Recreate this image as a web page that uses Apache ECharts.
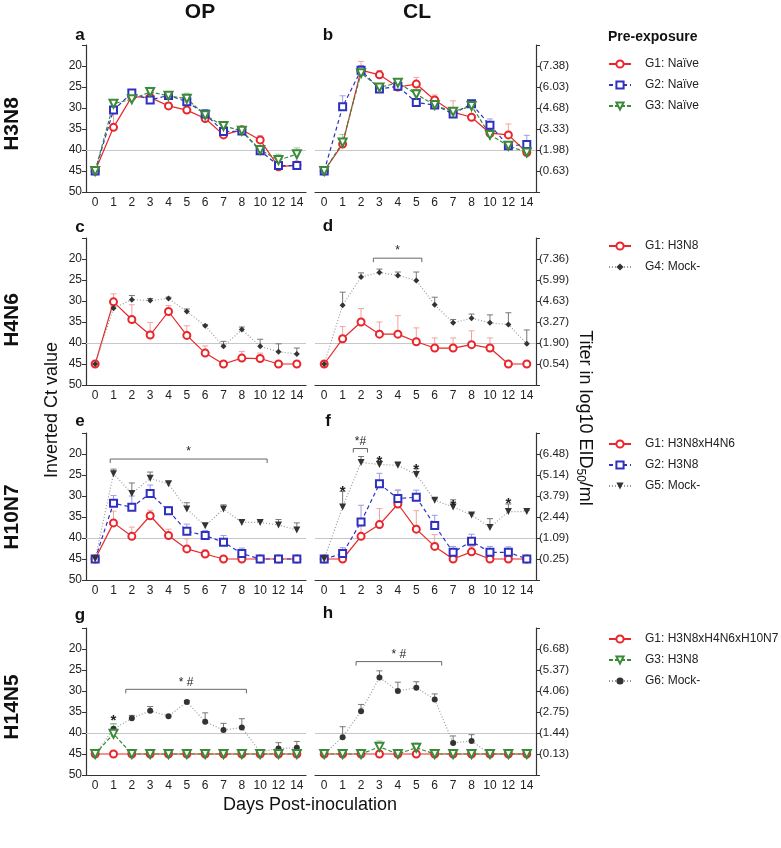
<!DOCTYPE html>
<html>
<head>
<meta charset="utf-8">
<script src="https://cdn.jsdelivr.net/npm/echarts@6/dist/echarts.min.js"></script>
<style>
  html, body { margin: 0; padding: 0; background: #fff; }
  #chart { width: 781px; height: 848px; }
</style>
</head>
<body>
<div id="chart"></div>
<script>
// days post-inoculation (category axis, evenly spaced)
const days = ['0', '1', '2', '3', '4', '5', '6', '7', '8', '10', '12', '14'];

// right-axis titer labels (log10 EID50/ml), placed at Ct 20..45
const titerB = ['(7.38)', '(6.03)', '(4.68)', '(3.33)', '(1.98)', '(0.63)'];
const titerD = ['(7.36)', '(5.99)', '(4.63)', '(3.27)', '(1.90)', '(0.54)'];
const titerF = ['(6.48)', '(5.14)', '(3.79)', '(2.44)', '(1.09)', '(0.25)'];
const titerH = ['(6.68)', '(5.37)', '(4.06)', '(2.75)', '(1.44)', '(0.13)'];

// a: H3N8 OP
const aG1 = [45, 34.6, 27.3, 27.5, 29.5, 30.5, 32.5, 36.4, 35.2, 37.6, 44.0, 43.6];
const aG1Err = [0, 3.3, 0.5, 1.0, 0.8, 0.5, 0.6, 0.5, 0.4, 1.0, 0.5, 0.9];
const aG2 = [45, 30.5, 26.4, 28.1, 27.0, 28.5, 31.4, 35.6, 35.5, 40.2, 43.7, 43.7];
const aG2Err = [0, 1.0, 0.5, 0.5, 0.9, 0.6, 1.0, 0.6, 0.3, 1.1, 0.5, 0.5];
const aG3 = [45, 29.0, 27.9, 26.2, 27.1, 27.8, 31.7, 34.3, 35.4, 40.0, 42.4, 41.0];
const aG3Err = [0, 0.5, 0.5, 0.7, 0.5, 1.3, 0.5, 0.5, 0.3, 0.5, 1.4, 1.5];

// b: H3N8 CL
const bG1 = [45, 38.6, 21.0, 22.1, 25.0, 24.3, 28.1, 31.0, 32.2, 36.0, 36.4, 40.6];
const bG1Err = [0, 0.8, 2.1, 1.0, 0.5, 1.6, 1.2, 2.7, 2.7, 0.8, 2.6, 0.5];
const bG2 = [45, 29.7, 21.0, 25.5, 24.8, 28.7, 29.3, 31.4, 29.0, 34.1, 39.0, 38.7];
const bG2Err = [0, 2.6, 1.1, 1.2, 0.6, 0.5, 0.5, 0.5, 0.5, 1.5, 0.5, 2.2];
const bG3 = [45, 38.2, 21.7, 25.1, 24.0, 26.7, 29.3, 30.9, 29.5, 36.4, 39.0, 40.6];
const bG3Err = [0, 1.9, 0.8, 0.6, 1.0, 1.1, 0.5, 0.5, 0.5, 0.5, 0.5, 0.5];

// c: H4N6 OP
const cG1 = [45, 30.2, 34.4, 38.1, 32.5, 38.2, 42.4, 45, 43.6, 43.7, 45, 45];
const cG1Err = [0, 1.9, 3.5, 3.0, 1.4, 2.3, 1.7, 0, 1.6, 1.3, 0, 0];
const cG4 = [45, 31.7, 29.7, 29.9, 29.4, 32.5, 35.9, 40.8, 36.8, 40.8, 42.1, 42.6];
const cG4Err = [0, 0.3, 1.0, 0.5, 0.3, 0.6, 0.3, 1.2, 0.6, 1.7, 1.9, 1.4];

// d: H4N6 CL
const dG1 = [45, 39.0, 35.0, 37.9, 37.9, 39.7, 41.2, 41.2, 40.4, 41.2, 45, 45];
const dG1Err = [0, 2.9, 3.2, 2.9, 4.4, 3.3, 2.4, 2.4, 3.3, 2.4, 0, 0];
const dG4 = [45, 31.0, 24.3, 23.2, 23.9, 25.1, 30.9, 35.2, 34.1, 35.2, 35.6, 40.2];
const dG4Err = [0, 3.1, 1.0, 0.8, 0.8, 2.0, 1.8, 0.8, 1.0, 1.9, 2.8, 3.3];

// e: H10N7 OP
const eG1 = [45, 36.4, 39.6, 34.7, 39.4, 42.6, 43.8, 45, 45, 45, 45, 45];
const eG1Err = [0, 2.8, 2.2, 1.3, 1.5, 2.4, 1.0, 0, 0, 0, 0, 0];
const eG2 = [45, 31.7, 32.7, 29.4, 33.5, 38.4, 39.4, 41.0, 43.7, 45, 45, 45];
const eG2Err = [0, 1.8, 2.7, 2.0, 1.0, 1.7, 1.2, 1.6, 1.3, 0, 0, 0];
const eG5 = [45, 24.7, 29.4, 25.8, 27.1, 33.1, 37.1, 33.1, 36.3, 36.3, 36.9, 38.1];
const eG5Err = [0, 1.1, 2.5, 1.5, 0.6, 1.5, 0.6, 1.0, 0.5, 0.3, 1.3, 1.7];

// f: H10N7 CL
const fG1 = [45, 45, 39.6, 36.8, 31.9, 37.9, 42.0, 45, 43.3, 45, 45, 45];
const fG1Err = [0, 0, 3.0, 3.8, 3.3, 4.4, 2.8, 0, 1.3, 0, 0, 0];
const fG2 = [45, 43.7, 36.2, 27.1, 30.6, 30.3, 37.0, 43.4, 40.8, 43.4, 43.4, 45];
const fG2Err = [0, 1.4, 4.0, 2.5, 2.0, 1.7, 2.4, 1.4, 1.7, 1.4, 1.3, 0];
const fG5 = [45, 32.6, 22.0, 22.5, 22.7, 24.9, 31.0, 32.6, 34.5, 37.5, 33.7, 33.7];
const fG5Err = [0, 3.7, 1.4, 0.8, 0.8, 1.4, 0.3, 1.7, 0.3, 2.1, 1.8, 0.3];

// g: H14N5 OP
const gG1 = [45, 45, 45, 45, 45, 45, 45, 45, 45, 45, 45, 45];
const gG1Err = [0, 0, 0, 0, 0, 0, 0, 0, 0, 0, 0, 0];
const gG3 = [45, 40.2, 45, 45, 45, 45, 45, 45, 45, 45, 45, 45];
const gG3Err = [0, 2.4, 0, 0, 0, 0, 0, 0, 0, 0, 0, 0];
const gG6 = [45, 39.0, 36.5, 34.7, 36.0, 32.6, 37.3, 39.3, 38.7, 44.5, 43.7, 43.5];
const gG6Err = [0, 1.2, 0.7, 1.0, 0.3, 0.3, 2.1, 1.6, 2.1, 0, 1.4, 1.5];

// h: H14N5 CL
const hG1 = [45, 45, 45, 45, 45, 45, 45, 45, 45, 45, 45, 45];
const hG1Err = [0, 0, 0, 0, 0, 0, 0, 0, 0, 0, 0, 0];
const hG3 = [45, 45, 45, 43.3, 45, 43.5, 45, 45, 45, 45, 45, 45];
const hG3Err = [0, 0, 0, 1.4, 0, 1.1, 0, 0, 0, 0, 0, 0];
const hG6 = [45, 41.0, 34.8, 26.8, 30.0, 29.2, 32.0, 42.4, 41.9, 45, 45, 45];
const hG6Err = [0, 2.5, 1.6, 1.6, 2.1, 1.4, 1.3, 1.7, 1.5, 0, 0, 0];

// significance brackets: [from index, to index, Ct level, label]
const bracketsD = [[2.67, 5.3, 19.8, '*']];
const bracketsE = [[0.82, 9.38, 21.2, '*']];
const bracketsF = [[1.58, 2.35, 18.7, '*#']];
const bracketsG = [[1.67, 8.25, 29.6, '* #']];
const bracketsH = [[1.73, 6.38, 23.0, '* #']];
// single stars: [index, Ct level]
const starsF = [[1, 28.1], [3, 20.9], [5, 22.8], [7, 31.5], [10, 30.9]];
const starsG = [[1, 36.2]];

const FONT = '"Liberation Sans", Arial, sans-serif';

const STY = {
  G1: { color: '#e8262b', line: '#e8262b', err: '#f2a2a2', symbol: 'emptyCircle', size: 7, type: 'solid' },
  G2: { color: '#3030c0', line: '#3030c0', err: '#9c9ce4', symbol: 'emptyRect', size: 7, type: [4, 3] },
  G3: { color: '#3a8a3a', line: '#3a8a3a', err: '#98c898', symbol: 'emptyTriangle', rotate: 180, size: 8, type: [4, 2] },
  G4: { color: '#333', line: '#9a9a9a', err: '#777', symbol: 'diamond', size: 6, type: [1, 2] },
  G5: { color: '#333', line: '#9a9a9a', err: '#777', symbol: 'triangle', rotate: 180, size: 7, type: [1, 2] },
  G6: { color: '#333', line: '#9a9a9a', err: '#777', symbol: 'circle', size: 6, type: [1, 2] }
};

const ROWS = [45, 238, 433, 628];
const COLS = [{ left: 86, width: 220 }, { left: 315, width: 221 }];
const titers = [titerB, titerD, titerF, titerH];

const grids = [], xAxes = [], yAxes = [];
for (let r = 0; r < 4; r++) {
  for (let c = 0; c < 2; c++) {
    const gi = grids.length;
    grids.push({ left: COLS[c].left, width: COLS[c].width, top: ROWS[r], height: 147 });
    xAxes.push({
      type: 'category', gridIndex: gi, data: days, boundaryGap: true,
      axisLine: { lineStyle: { color: '#333', width: 1.2 } },
      axisTick: { alignWithLabel: true, length: 4, lineStyle: { color: '#333' } },
      axisLabel: { fontSize: 12, color: '#222', fontFamily: FONT, margin: 5, interval: 0 }
    });
    const tl = titers[r];
    yAxes.push({
      type: 'value', gridIndex: gi, inverse: true, min: 15, max: 50, interval: 5,
      position: c === 0 ? 'left' : 'right',
      splitLine: { show: false },
      axisLine: { show: true, lineStyle: { color: '#333', width: 1.2 } },
      axisTick: { show: true, length: 4, lineStyle: { color: '#333' } },
      axisLabel: {
        fontSize: c === 0 ? 12 : 11.5, color: '#222', fontFamily: FONT, margin: c === 0 ? 4 : 3,
        formatter: c === 0
          ? (v => (v === 15 ? '' : String(v)))
          : (v => tl[(v - 20) / 5] || '')
      }
    });
  }
}

const series = [];

function lines(gi, list) {
  list.forEach((it, k) => {
    const s = STY[it.key];
    const ser = {
      type: 'line', name: it.name, xAxisIndex: gi, yAxisIndex: gi, z: 3,
      data: it.vals, symbol: s.symbol, symbolSize: s.size, symbolRotate: s.rotate || 0,
      itemStyle: { color: s.color, borderWidth: 1.2 },
      lineStyle: { color: s.line, width: 1.2, type: s.type },
      emphasis: { disabled: true }
    };
    if (k === 0) {
      ser.markLine = {
        silent: true, symbol: 'none', label: { show: false }, z: 1,
        lineStyle: { color: '#c8c8c8', type: 'solid', width: 1 },
        data: [{ yAxis: 40 }]
      };
    }
    series.push(ser);
  });
  // upper error bars
  const rows = [];
  list.forEach(it => {
    it.vals.forEach((v, i) => { if (it.errs[i] > 0) rows.push([i, v, it.errs[i], STY[it.key].err]); });
  });
  series.push({
    type: 'custom', name: 'err' + gi, xAxisIndex: gi, yAxisIndex: gi, z: 2, silent: true,
    data: rows.map(r => [r[0], r[1]]),
    renderItem(params, api) {
      const r = rows[params.dataIndex];
      const p0 = api.coord([r[0], r[1]]);
      const p1 = api.coord([r[0], r[1] - r[2]]);
      return {
        type: 'group', children: [
          { type: 'line', shape: { x1: p0[0], y1: p0[1], x2: p1[0], y2: p1[1] }, style: { stroke: r[3], lineWidth: 1 } },
          { type: 'line', shape: { x1: p1[0] - 3, y1: p1[1], x2: p1[0] + 3, y2: p1[1] }, style: { stroke: r[3], lineWidth: 1 } }
        ]
      };
    }
  });
}

function marks(gi, brackets, stars) {
  const items = brackets.map(b => ({ kind: 'b', b })).concat((stars || []).map(s => ({ kind: 's', s })));
  series.push({
    type: 'custom', name: 'sig' + gi, xAxisIndex: gi, yAxisIndex: gi, z: 4, silent: true,
    data: items.map(() => [0, 20]),
    renderItem(params, api) {
      const it = items[params.dataIndex];
      const bw = api.size([1, 0])[0];
      if (it.kind === 's') {
        const p = api.coord([it.s[0], it.s[1]]);
        return { type: 'text', x: p[0], y: p[1] + 4, style: { text: '*', fontSize: 15, fontWeight: 'bold', fill: '#222', fontFamily: FONT, align: 'center', verticalAlign: 'middle' } };
      }
      const b = it.b;
      const base = api.coord([0, b[2]]);
      const x0 = base[0] + b[0] * bw, x1 = base[0] + b[1] * bw, y = base[1];
      return {
        type: 'group', children: [
          { type: 'polyline', shape: { points: [[x0, y + 4], [x0, y], [x1, y], [x1, y + 4]] }, style: { stroke: '#666', lineWidth: 1, fill: null } },
          { type: 'text', x: (x0 + x1) / 2, y: y - 1, style: { text: b[3], fontSize: 12, fill: '#222', fontFamily: FONT, align: 'center', verticalAlign: 'bottom' } }
        ]
      };
    }
  });
}

lines(0, [
  { key: 'G1', name: 'G1: Naïve', vals: aG1, errs: aG1Err },
  { key: 'G2', name: 'G2: Naïve', vals: aG2, errs: aG2Err },
  { key: 'G3', name: 'G3: Naïve', vals: aG3, errs: aG3Err }
]);
lines(1, [
  { key: 'G1', name: 'G1: Naïve', vals: bG1, errs: bG1Err },
  { key: 'G2', name: 'G2: Naïve', vals: bG2, errs: bG2Err },
  { key: 'G3', name: 'G3: Naïve', vals: bG3, errs: bG3Err }
]);
lines(2, [
  { key: 'G1', name: 'G1: H3N8', vals: cG1, errs: cG1Err },
  { key: 'G4', name: 'G4: Mock-', vals: cG4, errs: cG4Err }
]);
lines(3, [
  { key: 'G1', name: 'G1: H3N8', vals: dG1, errs: dG1Err },
  { key: 'G4', name: 'G4: Mock-', vals: dG4, errs: dG4Err }
]);
lines(4, [
  { key: 'G1', name: 'G1: H3N8xH4N6', vals: eG1, errs: eG1Err },
  { key: 'G2', name: 'G2: H3N8', vals: eG2, errs: eG2Err },
  { key: 'G5', name: 'G5: Mock-', vals: eG5, errs: eG5Err }
]);
lines(5, [
  { key: 'G1', name: 'G1: H3N8xH4N6', vals: fG1, errs: fG1Err },
  { key: 'G2', name: 'G2: H3N8', vals: fG2, errs: fG2Err },
  { key: 'G5', name: 'G5: Mock-', vals: fG5, errs: fG5Err }
]);
lines(6, [
  { key: 'G6', name: 'G6: Mock-', vals: gG6, errs: gG6Err },
  { key: 'G1', name: 'G1: H3N8xH4N6xH10N7', vals: gG1, errs: gG1Err },
  { key: 'G3', name: 'G3: H3N8', vals: gG3, errs: gG3Err }
]);
lines(7, [
  { key: 'G6', name: 'G6: Mock-', vals: hG6, errs: hG6Err },
  { key: 'G1', name: 'G1: H3N8xH4N6xH10N7', vals: hG1, errs: hG1Err },
  { key: 'G3', name: 'G3: H3N8', vals: hG3, errs: hG3Err }
]);

marks(3, bracketsD);
marks(4, bracketsE);
marks(5, bracketsF, starsF);
marks(6, bracketsG, starsG);
marks(7, bracketsH);

function legend(top, names) {
  return {
    data: names, left: 608, top: top, orient: 'vertical', selectedMode: false, padding: 0,
    itemWidth: 22, itemHeight: 9, itemGap: 9,
    textStyle: { fontSize: 12, color: '#222', fontFamily: FONT, padding: [0, 0, 0, 9] }
  };
}

function label(text, x, y, size, opts) {
  return Object.assign({
    type: 'text', x: x, y: y,
    style: Object.assign({ text: text, fontSize: size, fontWeight: 'bold', fill: '#111', fontFamily: FONT, align: 'center', verticalAlign: 'middle' }, (opts && opts.style) || {})
  }, opts && opts.el);
}

const graphic = [
  label('OP', 200, 12, 21),
  label('CL', 417, 12, 21),
  label('a', 80, 35, 17), label('b', 328, 35, 17),
  label('c', 80, 227, 17), label('d', 328, 226, 17),
  label('e', 80, 421, 17), label('f', 328, 421, 17),
  label('g', 80, 615, 17), label('h', 328, 613, 17),
  label('H3N8', 12, 124, 21, { el: { rotation: Math.PI / 2 } }),
  label('H4N6', 12, 320, 21, { el: { rotation: Math.PI / 2 } }),
  label('H10N7', 12, 517, 21, { el: { rotation: Math.PI / 2 } }),
  label('H14N5', 12, 707, 21, { el: { rotation: Math.PI / 2 } }),
  label('Pre-exposure', 608, 37, 14, { style: { align: 'left' } }),
  label('Inverted Ct value', 52, 410, 18, { el: { rotation: Math.PI / 2 }, style: { fontWeight: 'normal' } }),
  label('Days Post-inoculation', 310, 805, 18, { style: { fontWeight: 'normal' } }),
  {
    type: 'text', x: 585, y: 418, rotation: -Math.PI / 2,
    style: {
      text: 'Titer in log10 EID{sub|50}/ml', fontSize: 18, fill: '#111', fontFamily: FONT,
      align: 'center', verticalAlign: 'middle',
      rich: { sub: { fontSize: 12, fontFamily: FONT, fill: '#111', padding: [9, 0, 0, 0] } }
    }
  }
];

const chart = echarts.init(document.getElementById('chart'), null, { renderer: 'canvas' });
chart.setOption({
  animation: false,
  backgroundColor: '#fff',
  textStyle: { fontFamily: FONT },
  grid: grids,
  xAxis: xAxes,
  yAxis: yAxes,
  legend: [
    legend(58, ['G1: Naïve', 'G2: Naïve', 'G3: Naïve']),
    legend(240, ['G1: H3N8', 'G4: Mock-']),
    legend(438, ['G1: H3N8xH4N6', 'G2: H3N8', 'G5: Mock-']),
    legend(633, ['G1: H3N8xH4N6xH10N7', 'G3: H3N8', 'G6: Mock-'])
  ],
  series: series,
  graphic: graphic
});
</script>
</body>
</html>
